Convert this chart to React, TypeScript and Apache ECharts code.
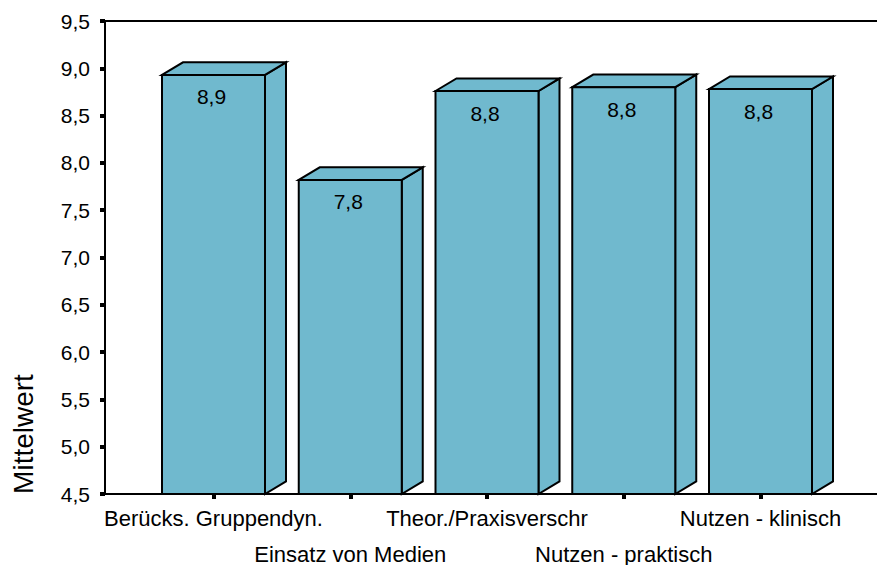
import React, { useEffect, useRef } from "react";
import * as echarts from "echarts";

const categories = [
  "Berücks. Gruppendyn.",
  "Einsatz von Medien",
  "Theor./Praxisverschr",
  "Nutzen - praktisch",
  "Nutzen - klinisch",
];
const values = [8.93, 7.82, 8.76, 8.8, 8.78];
const yTicks = { min: 4.5, max: 9.5, interval: 0.5 };
const yTitle = "Mittelwert";

const FONT = "'Liberation Sans', Arial, sans-serif";
const BAR_COLOR = "#70B9CE";
const DX = 21;
const DY = 12.6;

const fmt = (v: number) => v.toFixed(1).replace(".", ",");

export default function App() {
  const ref = useRef<HTMLDivElement>(null);
  useEffect(() => {
    if (!ref.current) return;
    const chart = echarts.init(ref.current, undefined, { renderer: "svg" });
    const xMin = -(213.5 - 105) / 136.75;
    const xMax = (887 - 213.5) / 136.75;
    const idx = categories.map((_, i) => i);
    const evenIdx = idx.filter((i) => i % 2 === 0);
    const oddIdx = idx.filter((i) => i % 2 === 1);
    const labelBase = {
      showMinLabel: true,
      showMaxLabel: true,
      hideOverlap: false,
      color: "#000",
      fontSize: 22,
      fontFamily: FONT,
      lineHeight: 36,
      formatter: (v: number) => categories[Math.round(v)] ?? "",
    };
    chart.setOption({
      animation: false,
      backgroundColor: "#fff",
      grid: {
        left: 105,
        top: 21,
        bottom: 71,
        right: -10,
        show: true,
        borderColor: "#000",
        borderWidth: 2,
        backgroundColor: "transparent",
        outerBoundsMode: "none",
      },
      xAxis: [
        {
          type: "value",
          min: xMin,
          max: xMax,
          splitLine: { show: false },
          axisLine: { show: true, onZero: false, lineStyle: { color: "#000", width: 2 } },
          axisTick: {
            show: true,
            customValues: idx,
            length: 5,
            lineStyle: { color: "#000", width: 4 },
          },
          axisLabel: { ...labelBase, customValues: evenIdx, margin: 6 },
        },
        {
          type: "value",
          position: "bottom",
          offset: 0,
          min: xMin,
          max: xMax,
          splitLine: { show: false },
          axisLine: { show: false, onZero: false },
          axisTick: { show: false },
          axisLabel: { ...labelBase, customValues: oddIdx, margin: 42 },
        },
      ],
      yAxis: {
        type: "value",
        min: yTicks.min,
        max: yTicks.max,
        interval: yTicks.interval,
        splitLine: { show: false },
        axisLine: { show: true, onZero: false, lineStyle: { color: "#000", width: 2 } },
        axisTick: { show: true, length: 5, lineStyle: { color: "#000", width: 4 } },
        axisLabel: {
          margin: 15,
          showMinLabel: true,
          showMaxLabel: true,
          color: "#000",
          fontSize: 21,
          fontFamily: FONT,
          formatter: (v: number) => fmt(v),
        },
      },
      graphic: [
        {
          type: "text",
          x: 23,
          y: 434,
          rotation: Math.PI / 2,
          style: {
            text: yTitle,
            fontSize: 28,
            fontFamily: FONT,
            fill: "#000",
            align: "center",
            verticalAlign: "middle",
          },
        },
      ],
      series: [
        {
          type: "custom",
          xAxisIndex: 0,
          data: values.map((v, i) => [i, v]),
          renderItem: (params: any, api: any) => {
            const i = api.value(0);
            const v = api.value(1);
            const top = api.coord([i, v]);
            const base = api.coord([i, yTicks.min]);
            const w = api.size([1, 0])[0] * (103 / 136.75);
            const x0 = top[0] - w / 2;
            const x1 = top[0] + w / 2;
            const style = { fill: BAR_COLOR, stroke: "#000", lineWidth: 2, lineJoin: "miter" };
            return {
              type: "group",
              children: [
                {
                  type: "polygon",
                  shape: {
                    points: [
                      [x1, top[1]],
                      [x1 + DX, top[1] - DY],
                      [x1 + DX, base[1] - DY],
                      [x1, base[1]],
                    ],
                  },
                  style,
                },
                {
                  type: "polygon",
                  shape: {
                    points: [
                      [x0, top[1]],
                      [x0 + DX, top[1] - DY],
                      [x1 + DX, top[1] - DY],
                      [x1, top[1]],
                    ],
                  },
                  style,
                },
                {
                  type: "rect",
                  shape: { x: x0, y: top[1], width: w, height: base[1] - top[1] },
                  style,
                },
                {
                  type: "text",
                  style: {
                    text: fmt(values[i]),
                    x: top[0] - 2,
                    y: top[1] + 22,
                    align: "center",
                    verticalAlign: "middle",
                    textAlign: "center",
                    textVerticalAlign: "middle",
                    fontSize: 21,
                    fontFamily: FONT,
                    fill: "#000",
                  },
                },
              ],
            };
          },
        },
      ],
    });
    return () => chart.dispose();
  }, []);
  return (
    <div
      ref={ref}
      style={{ position: "fixed", left: 0, top: 0, width: 877, height: 565 }}
    />
  );
}
